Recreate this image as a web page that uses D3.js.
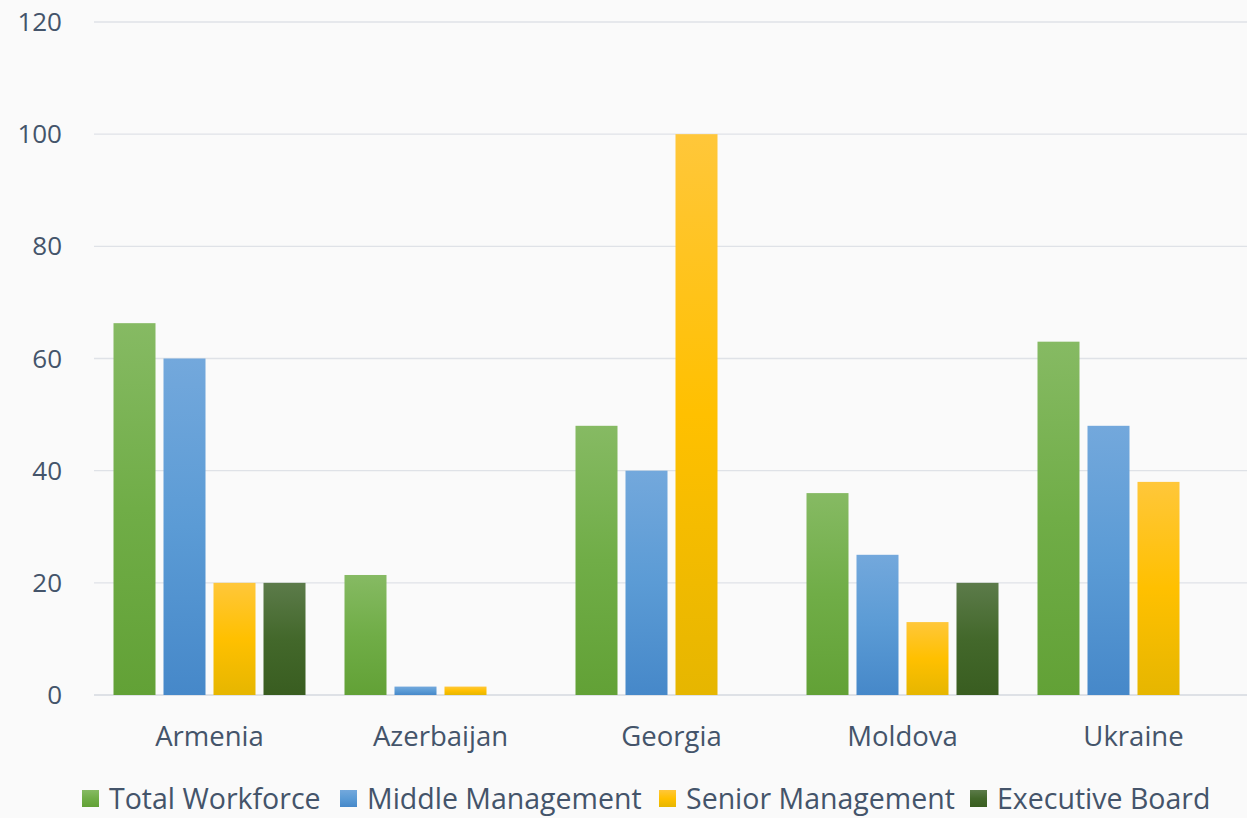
<!DOCTYPE html>
<html>
<head>
<meta charset="utf-8">
<script src="https://cdn.jsdelivr.net/npm/d3@7"></script>
<style>
  html, body { margin: 0; padding: 0; background: #fafafa; }
  svg { display: block; }
  text { font-family: "Open Sans", "Noto Sans", sans-serif; fill: #44546a; }
</style>
</head>
<body>
<svg id="chart" width="1247" height="818"></svg>
<script>
// Share of women by country and level (percent)
const countries = ["Armenia", "Azerbaijan", "Georgia", "Moldova", "Ukraine"];
const seriesNames = ["Total Workforce", "Middle Management", "Senior Management", "Executive Board"];
const totalWorkforce   = [66.3, 21.4, 48, 36, 63];
const middleManagement = [60, 1.5, 40, 25, 48];
const seniorManagement = [20, 1.5, 100, 13, 38];
const executiveBoard   = [20, 0, 0, 20, 0];
const yTicks = [0, 20, 40, 60, 80, 100, 120];

const seriesValues = [totalWorkforce, middleManagement, seniorManagement, executiveBoard];
// top / middle / bottom gradient stops per series
const gradients = [
  ["#86ba63", "#70ad47", "#62a136"],
  ["#73a8dc", "#5b9bd5", "#4688c9"],
  ["#ffc73a", "#ffc000", "#e6b600"],
  ["#5c7b4a", "#43682b", "#395d20"]
];

const svg = d3.select("#chart");
const defs = svg.append("defs");
gradients.forEach((g, i) => {
  const lg = defs.append("linearGradient")
    .attr("id", "grad" + i).attr("x1", 0).attr("y1", 0).attr("x2", 0).attr("y2", 1);
  lg.append("stop").attr("offset", "0%").attr("stop-color", g[0]);
  lg.append("stop").attr("offset", "50%").attr("stop-color", g[1]);
  lg.append("stop").attr("offset", "100%").attr("stop-color", g[2]);
});

const plotLeft = 94, plotRight = 1249, plotTop = 22, plotBottom = 695;

const y = d3.scaleLinear().domain([0, 120]).range([plotBottom, plotTop]);
const x0 = d3.scaleBand().domain(countries).range([plotLeft, plotRight]).padding(0);
const x1 = d3.scaleBand().domain(d3.range(seriesNames.length))
  .range([19.5, 211.5]).paddingInner(0.16).paddingOuter(0);

// gridlines
svg.append("g").selectAll("line").data(yTicks).join("line")
  .attr("x1", plotLeft).attr("x2", 1247)
  .attr("y1", d => y(d)).attr("y2", d => y(d))
  .attr("stroke", d => d === 0 ? "#d5d9df" : "#dfe2e7")
  .attr("stroke-width", 1.3);

// y labels
svg.append("g").selectAll("text").data(yTicks).join("text")
  .attr("x", 62).attr("y", d => y(d)).attr("dy", "0.35em")
  .attr("text-anchor", "end").attr("font-size", 26)
  .text(d => d);

// bars
const groups = svg.append("g").selectAll("g").data(countries).join("g")
  .attr("transform", c => `translate(${x0(c)},0)`);
groups.selectAll("rect")
  .data((c, ci) => seriesValues.map((vals, si) => ({ si, v: vals[ci] })).filter(d => d.v > 0))
  .join("rect")
  .attr("x", d => x1(d.si))
  .attr("width", x1.bandwidth())
  .attr("y", d => y(d.v))
  .attr("height", d => y(0) - y(d.v))
  .attr("fill", d => `url(#grad${d.si})`);

// x labels
svg.append("g").selectAll("text").data(countries).join("text")
  .attr("x", c => x0(c) + x0.bandwidth() / 2)
  .attr("y", 736).attr("dy", "0.35em")
  .attr("text-anchor", "middle").attr("font-size", 27.5)
  .text(c => c);

// legend
const legendX = [82, 340, 659, 970];
const legend = svg.append("g").selectAll("g").data(seriesNames).join("g")
  .attr("transform", (d, i) => `translate(${legendX[i]},790)`);
legend.append("rect").attr("width", 17).attr("height", 17)
  .attr("fill", (d, i) => `url(#grad${i})`);
legend.append("text").attr("x", 27).attr("y", 9).attr("dy", "0.35em")
  .attr("font-size", 28.5).text(d => d);
</script>
</body>
</html>
